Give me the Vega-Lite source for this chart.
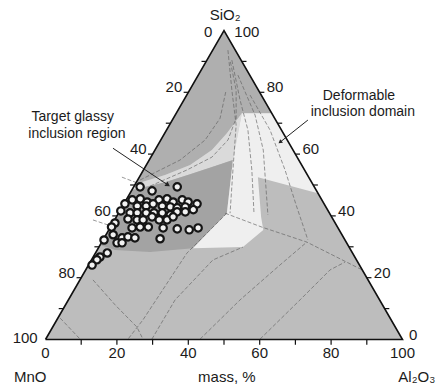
{
  "$schema": "https://vega.github.io/schema/vega-lite/v6.json",
  "width": 357,
  "height": 309,
  "autosize": "none",
  "padding": {"left": 45.5, "top": 30.5, "right": 35.5, "bottom": 50.5},
  "background": "white",
  "config": {"view": {"stroke": null}, "text": {"font": "Liberation Sans", "fontSize": 15, "color": "#1b1b1b"}},
  "datasets": {
    "regions": [
      {"r": "base", "i": 0, "x": 0, "y": 0}, {"r": "base", "i": 1, "x": 100, "y": 0}, {"r": "base", "i": 2, "x": 50, "y": 86.6}, {"r": "base", "i": 3, "x": 0, "y": 0},
      {"r": "upper", "i": 0, "x": 50, "y": 86.6}, {"r": "upper", "i": 1, "x": 63.4, "y": 63.4}, {"r": "upper", "i": 2, "x": 55.0, "y": 63.4}, {"r": "upper", "i": 3, "x": 50.8, "y": 57.8}, {"r": "upper", "i": 4, "x": 46.6, "y": 53.1}, {"r": "upper", "i": 5, "x": 40.5, "y": 48.9}, {"r": "upper", "i": 6, "x": 33.5, "y": 46.1}, {"r": "upper", "i": 7, "x": 25.2, "y": 43.6}, {"r": "upper", "i": 8, "x": 50, "y": 86.6},
      {"r": "band", "i": 0, "x": 25.2, "y": 43.6}, {"r": "band", "i": 1, "x": 33.5, "y": 46.1}, {"r": "band", "i": 2, "x": 40.5, "y": 48.9}, {"r": "band", "i": 3, "x": 46.6, "y": 53.1}, {"r": "band", "i": 4, "x": 50.8, "y": 57.8}, {"r": "band", "i": 5, "x": 55.0, "y": 63.4}, {"r": "band", "i": 6, "x": 52.5, "y": 50.3}, {"r": "band", "i": 7, "x": 47.5, "y": 48.6}, {"r": "band", "i": 8, "x": 40.5, "y": 46.3}, {"r": "band", "i": 9, "x": 33.5, "y": 44.1}, {"r": "band", "i": 10, "x": 24.2, "y": 41.9}, {"r": "band", "i": 11, "x": 25.2, "y": 43.6},
      {"r": "blob", "i": 0, "x": 24.2, "y": 41.9}, {"r": "blob", "i": 1, "x": 33.5, "y": 44.1}, {"r": "blob", "i": 2, "x": 40.5, "y": 46.3}, {"r": "blob", "i": 3, "x": 47.5, "y": 48.6}, {"r": "blob", "i": 4, "x": 52.5, "y": 50.3}, {"r": "blob", "i": 5, "x": 50.8, "y": 35.4}, {"r": "blob", "i": 6, "x": 41.3, "y": 25.6}, {"r": "blob", "i": 7, "x": 29.3, "y": 24.5}, {"r": "blob", "i": 8, "x": 19.5, "y": 25.1}, {"r": "blob", "i": 9, "x": 15.3, "y": 26.5}, {"r": "blob", "i": 10, "x": 24.2, "y": 41.9},
      {"r": "white", "i": 0, "x": 55.0, "y": 63.4}, {"r": "white", "i": 1, "x": 63.4, "y": 63.4}, {"r": "white", "i": 2, "x": 76.3, "y": 41.0}, {"r": "white", "i": 3, "x": 59.5, "y": 45.5}, {"r": "white", "i": 4, "x": 60.4, "y": 34.3}, {"r": "white", "i": 5, "x": 61.0, "y": 30.7}, {"r": "white", "i": 6, "x": 55.3, "y": 25.9}, {"r": "white", "i": 7, "x": 41.3, "y": 25.6}, {"r": "white", "i": 8, "x": 50.8, "y": 35.4}, {"r": "white", "i": 9, "x": 52.5, "y": 50.3}, {"r": "white", "i": 10, "x": 55.0, "y": 63.4}
    ],
    "lines": [
      {"l": "L1", "i": 0, "x": 50.3, "y": 35.4}, {"l": "L1", "i": 1, "x": 60.6, "y": 31.5}, {"l": "L1", "i": 2, "x": 73.2, "y": 27.3}, {"l": "L1", "i": 3, "x": 88.7, "y": 19.5},
      {"l": "D1", "i": 0, "x": 51.1, "y": 81.1}, {"l": "D1", "i": 1, "x": 52.2, "y": 69.9}, {"l": "D1", "i": 2, "x": 53.4, "y": 60.1}, {"l": "D1", "i": 3, "x": 52.5, "y": 47.5}, {"l": "D1", "i": 4, "x": 51.7, "y": 35.4},
      {"l": "D2", "i": 0, "x": 52.2, "y": 78.3}, {"l": "D2", "i": 1, "x": 54.5, "y": 67.1}, {"l": "D2", "i": 2, "x": 56.7, "y": 58.7}, {"l": "D2", "i": 3, "x": 57.8, "y": 47.5}, {"l": "D2", "i": 4, "x": 58.4, "y": 35.4},
      {"l": "D3", "i": 0, "x": 53.9, "y": 74.1}, {"l": "D3", "i": 1, "x": 58.7, "y": 62.9}, {"l": "D3", "i": 2, "x": 61.0, "y": 53.1}, {"l": "D3", "i": 3, "x": 61.8, "y": 41.9}, {"l": "D3", "i": 4, "x": 62.3, "y": 34.9},
      {"l": "D4", "i": 0, "x": 57.3, "y": 68.5}, {"l": "D4", "i": 1, "x": 62.9, "y": 58.7}, {"l": "D4", "i": 2, "x": 67.1, "y": 47.5}, {"l": "D4", "i": 3, "x": 70.2, "y": 37.7}, {"l": "D4", "i": 4, "x": 73.5, "y": 27.9},
      {"l": "D5", "i": 0, "x": 29.3, "y": 43.0}, {"l": "D5", "i": 1, "x": 39.6, "y": 47.5}, {"l": "D5", "i": 2, "x": 46.6, "y": 51.1}, {"l": "D5", "i": 3, "x": 51.1, "y": 55.9}, {"l": "D5", "i": 4, "x": 53.4, "y": 62.0}, {"l": "D5", "i": 5, "x": 53.4, "y": 69.9}, {"l": "D5", "i": 6, "x": 51.7, "y": 78.3},
      {"l": "D6", "i": 0, "x": 26.5, "y": 44.7}, {"l": "D6", "i": 1, "x": 37.7, "y": 50.3}, {"l": "D6", "i": 2, "x": 44.7, "y": 55.9}, {"l": "D6", "i": 3, "x": 48.9, "y": 62.0}, {"l": "D6", "i": 4, "x": 50.6, "y": 69.9},
      {"l": "D7", "i": 0, "x": 50.8, "y": 35.4}, {"l": "D7", "i": 1, "x": 39.6, "y": 24.2}, {"l": "D7", "i": 2, "x": 27.3, "y": 5.5}, {"l": "D7", "i": 3, "x": 23.1, "y": 0.1},
      {"l": "D8", "i": 0, "x": 29.8, "y": 0.1}, {"l": "D8", "i": 1, "x": 36.3, "y": 11.1}, {"l": "D8", "i": 2, "x": 46.9, "y": 22.3}, {"l": "D8", "i": 3, "x": 55.3, "y": 25.9},
      {"l": "D9", "i": 0, "x": 43.3, "y": 0.1}, {"l": "D9", "i": 1, "x": 54.5, "y": 11.1}, {"l": "D9", "i": 2, "x": 65.7, "y": 20.9}, {"l": "D9", "i": 3, "x": 73.2, "y": 27.3},
      {"l": "D10", "i": 0, "x": 60.1, "y": 0.1}, {"l": "D10", "i": 1, "x": 71.3, "y": 11.1}, {"l": "D10", "i": 2, "x": 79.7, "y": 19.5}, {"l": "D10", "i": 3, "x": 83.9, "y": 21.7},
      {"l": "D11", "i": 0, "x": 13.3, "y": 16.7}, {"l": "D11", "i": 1, "x": 19.5, "y": 9.7}, {"l": "D11", "i": 2, "x": 25.6, "y": 3.5}, {"l": "D11", "i": 3, "x": 27.3, "y": 0.1},
      {"l": "D12", "i": 0, "x": 4.1, "y": 6.0}, {"l": "D12", "i": 1, "x": 9.7, "y": 0.1},
      {"l": "E1", "i": 0, "x": 21.4, "y": 45.5}, {"l": "E1", "i": 1, "x": 25.9, "y": 43.8},
      {"l": "E2", "i": 0, "x": 13.3, "y": 33.5}, {"l": "E2", "i": 1, "x": 17.5, "y": 32.1}
    ],
    "ticks": [
      {"side": "bottom", "v": 10}, {"side": "bottom", "v": 20}, {"side": "bottom", "v": 30}, {"side": "bottom", "v": 40}, {"side": "bottom", "v": 50}, {"side": "bottom", "v": 60}, {"side": "bottom", "v": 70}, {"side": "bottom", "v": 80}, {"side": "bottom", "v": 90},
      {"side": "left", "v": 10}, {"side": "left", "v": 20}, {"side": "left", "v": 30}, {"side": "left", "v": 40}, {"side": "left", "v": 50}, {"side": "left", "v": 60}, {"side": "left", "v": 70}, {"side": "left", "v": 80}, {"side": "left", "v": 90},
      {"side": "right", "v": 10}, {"side": "right", "v": 20}, {"side": "right", "v": 30}, {"side": "right", "v": 40}, {"side": "right", "v": 50}, {"side": "right", "v": 60}, {"side": "right", "v": 70}, {"side": "right", "v": 80}, {"side": "right", "v": 90}
    ],
    "labels": [
      {"side": "bottom", "v": 0}, {"side": "bottom", "v": 20}, {"side": "bottom", "v": 40}, {"side": "bottom", "v": 60}, {"side": "bottom", "v": 80}, {"side": "bottom", "v": 100},
      {"side": "left", "v": 20}, {"side": "left", "v": 40}, {"side": "left", "v": 60}, {"side": "left", "v": 80},
      {"side": "right", "v": 20}, {"side": "right", "v": 40}, {"side": "right", "v": 60}, {"side": "right", "v": 80}
    ],
    "points": [
      {"SiO2": 49.4, "Al2O3": 1.8}, {"SiO2": 48.1, "Al2O3": 5.8}, {"SiO2": 49.4, "Al2O3": 12.2},
      {"SiO2": 45.2, "Al2O3": 1.7}, {"SiO2": 45.5, "Al2O3": 3.8}, {"SiO2": 44.5, "Al2O3": 6.2}, {"SiO2": 45.2, "Al2O3": 9.2}, {"SiO2": 45.5, "Al2O3": 11.3}, {"SiO2": 44.5, "Al2O3": 13.5}, {"SiO2": 45.2, "Al2O3": 15.7}, {"SiO2": 44.5, "Al2O3": 17.7}, {"SiO2": 43.9, "Al2O3": 20.5},
      {"SiO2": 43.9, "Al2O3": 0.3}, {"SiO2": 43.2, "Al2O3": 4.1}, {"SiO2": 43.2, "Al2O3": 6.6}, {"SiO2": 43.9, "Al2O3": 8.2}, {"SiO2": 43.2, "Al2O3": 11.1}, {"SiO2": 42.9, "Al2O3": 13.5}, {"SiO2": 42.6, "Al2O3": 15.6}, {"SiO2": 42.9, "Al2O3": 17.7},
      {"SiO2": 41.6, "Al2O3": 0.3}, {"SiO2": 41.0, "Al2O3": 3.2}, {"SiO2": 41.0, "Al2O3": 5.2}, {"SiO2": 41.0, "Al2O3": 7.7}, {"SiO2": 41.0, "Al2O3": 9.9}, {"SiO2": 41.0, "Al2O3": 12.2}, {"SiO2": 40.3, "Al2O3": 14.8}, {"SiO2": 41.3, "Al2O3": 16.2}, {"SiO2": 41.3, "Al2O3": 18.5}, {"SiO2": 42.0, "Al2O3": 20.4},
      {"SiO2": 37.7, "Al2O3": 0.6}, {"SiO2": 39.0, "Al2O3": 3.6}, {"SiO2": 38.7, "Al2O3": 6.3}, {"SiO2": 38.7, "Al2O3": 8.0}, {"SiO2": 39.7, "Al2O3": 10.0}, {"SiO2": 38.7, "Al2O3": 12.5}, {"SiO2": 38.7, "Al2O3": 14.7}, {"SiO2": 39.7, "Al2O3": 15.9},
      {"SiO2": 36.4, "Al2O3": 0.3}, {"SiO2": 36.1, "Al2O3": 6.2}, {"SiO2": 36.4, "Al2O3": 8.3}, {"SiO2": 36.4, "Al2O3": 10.6}, {"SiO2": 36.1, "Al2O3": 14.9}, {"SiO2": 35.8, "Al2O3": 19.0}, {"SiO2": 35.5, "Al2O3": 22.5}, {"SiO2": 36.1, "Al2O3": 24.7},
      {"SiO2": 33.9, "Al2O3": 2.0}, {"SiO2": 32.9, "Al2O3": 5.0}, {"SiO2": 33.2, "Al2O3": 6.5}, {"SiO2": 32.9, "Al2O3": 8.6}, {"SiO2": 32.6, "Al2O3": 15.8},
      {"SiO2": 32.2, "Al2O3": 0.3}, {"SiO2": 31.3, "Al2O3": 4.4}, {"SiO2": 31.3, "Al2O3": 5.8},
      {"SiO2": 28.0, "Al2O3": 3.3}, {"SiO2": 26.7, "Al2O3": 1.9}, {"SiO2": 25.8, "Al2O3": 1.5}, {"SiO2": 24.1, "Al2O3": 1.0}
    ],
    "arrows": [
      {"a": "glassy", "i": 0, "x": 18.9, "y": 53.6}, {"a": "glassy", "i": 1, "x": 34.3, "y": 43.3},
      {"a": "deform", "i": 0, "x": 73.5, "y": 61.5}, {"a": "deform", "i": 1, "x": 65.7, "y": 55.3}
    ],
    "notes": [
      {"t": "SiO₂", "x": 50.3, "y": 90.9},
      {"t": "0", "x": 45.6, "y": 86.1},
      {"t": "100", "x": 56.4, "y": 86.1},
      {"t": "100", "x": -5.7, "y": 0.4},
      {"t": "0", "x": 103.0, "y": 1.2},
      {"t": "MnO", "x": -4.3, "y": -10.5},
      {"t": "mass, %", "x": 50.8, "y": -10.5},
      {"t": "Al₂O₃", "x": 104.0, "y": -10.5}
    ],
    "notes2": [
      {"t": "Deformable", "x": 87.8, "y": 68.2},
      {"t": "inclusion domain", "x": 88.9, "y": 63.8},
      {"t": "Target glassy", "x": 7.6, "y": 62.3},
      {"t": "inclusion region", "x": 8.8, "y": 57.6}
    ]
  },
  "encoding": {
    "x": {"field": "x", "type": "quantitative", "scale": {"domain": [0, 100], "nice": false, "zero": false}, "axis": null},
    "y": {"field": "y", "type": "quantitative", "scale": {"domain": [0, 86.6], "nice": false, "zero": false}, "axis": null}
  },
  "layer": [
    {"data": {"name": "regions"}, "transform": [{"filter": "datum.r == 'base'"}], "mark": {"type": "line", "fill": "#bdbdbd", "stroke": null}, "encoding": {"order": {"field": "i"}}},
    {"data": {"name": "regions"}, "transform": [{"filter": "datum.r == 'upper'"}], "mark": {"type": "line", "fill": "#afafaf", "stroke": null}, "encoding": {"order": {"field": "i"}}},
    {"data": {"name": "regions"}, "transform": [{"filter": "datum.r == 'band'"}], "mark": {"type": "line", "fill": "#dadada", "stroke": null}, "encoding": {"order": {"field": "i"}}},
    {"data": {"name": "regions"}, "transform": [{"filter": "datum.r == 'blob'"}], "mark": {"type": "line", "fill": "#a3a3a3", "stroke": null}, "encoding": {"order": {"field": "i"}}},
    {"data": {"name": "regions"}, "transform": [{"filter": "datum.r == 'white'"}], "mark": {"type": "line", "fill": "#efefef", "stroke": null}, "encoding": {"order": {"field": "i"}}},
    {"data": {"name": "lines"}, "mark": {"type": "line", "stroke": "#5e5e5e", "strokeWidth": 0.8, "strokeDash": [4, 2], "opacity": 0.8}, "encoding": {"detail": {"field": "l"}, "order": {"field": "i"}}},
    {"data": {"name": "regions"}, "transform": [{"filter": "datum.r == 'base'"}], "mark": {"type": "line", "stroke": "#111", "strokeWidth": 1.6, "strokeJoin": "miter"}, "encoding": {"order": {"field": "i"}}},
    {"data": {"name": "ticks"},
     "transform": [
       {"calculate": "datum.side == 'bottom' ? datum.v : (datum.side == 'left' ? (100 - datum.v) / 2 : 100 - datum.v / 2)", "as": "x"},
       {"calculate": "datum.side == 'bottom' ? 0 : (datum.side == 'left' ? (100 - datum.v) * 0.866 : datum.v * 0.866)", "as": "y"},
       {"calculate": "datum.side == 'bottom' ? datum.x : (datum.side == 'left' ? datum.x - 1.3 : datum.x + 1.3)", "as": "x2"},
       {"calculate": "datum.side == 'bottom' ? -1.5 : datum.y", "as": "y2"}
     ],
     "mark": {"type": "rule", "stroke": "#111", "strokeWidth": 1.2},
     "encoding": {"x2": {"field": "x2"}, "y2": {"field": "y2"}}},
    {"data": {"name": "labels"},
     "transform": [
       {"filter": "datum.side == 'bottom'"},
       {"calculate": "datum.v", "as": "x"},
       {"calculate": "0", "as": "y"}
     ],
     "mark": {"type": "text", "dy": 13, "baseline": "middle", "align": "center"},
     "encoding": {"text": {"field": "v"}}},
    {"data": {"name": "labels"},
     "transform": [
       {"filter": "datum.side == 'left'"},
       {"calculate": "(100 - datum.v) / 2", "as": "x"},
       {"calculate": "(100 - datum.v) * 0.866", "as": "y"}
     ],
     "mark": {"type": "text", "dx": -6, "dy": -5, "baseline": "middle", "align": "right"},
     "encoding": {"text": {"field": "v"}}},
    {"data": {"name": "labels"},
     "transform": [
       {"filter": "datum.side == 'right'"},
       {"calculate": "100 - datum.v / 2", "as": "x"},
       {"calculate": "datum.v * 0.866", "as": "y"}
     ],
     "mark": {"type": "text", "dx": 7, "dy": -5, "baseline": "middle", "align": "left"},
     "encoding": {"text": {"field": "v"}}},
    {"data": {"name": "notes"}, "mark": {"type": "text", "baseline": "middle", "align": "center"}, "encoding": {"text": {"field": "t"}}},
    {"data": {"name": "notes2"}, "mark": {"type": "text", "baseline": "middle", "align": "center", "fontSize": 14}, "encoding": {"text": {"field": "t"}}},
    {"data": {"name": "arrows"}, "mark": {"type": "line", "stroke": "#222", "strokeWidth": 1}, "encoding": {"detail": {"field": "a"}, "order": {"field": "i"}}},
    {"data": {"name": "arrows"}, "transform": [{"filter": "datum.a == 'glassy' && datum.i == 1"}], "mark": {"type": "point", "shape": "triangle-right", "angle": 34, "size": 30, "filled": true, "color": "#222", "opacity": 1}},
    {"data": {"name": "arrows"}, "transform": [{"filter": "datum.a == 'deform' && datum.i == 1"}], "mark": {"type": "point", "shape": "triangle-right", "angle": 142, "size": 20, "filled": true, "color": "#222", "opacity": 1}},
    {"data": {"name": "points"},
     "transform": [
       {"calculate": "datum.Al2O3 + datum.SiO2 / 2", "as": "x"},
       {"calculate": "datum.SiO2 * 0.866", "as": "y"}
     ],
     "mark": {"type": "point", "shape": "circle", "size": 55, "filled": false, "fill": "#f2f2f2", "fillOpacity": 1, "stroke": "#151515", "strokeWidth": 2.2, "opacity": 1}}
  ]
}
